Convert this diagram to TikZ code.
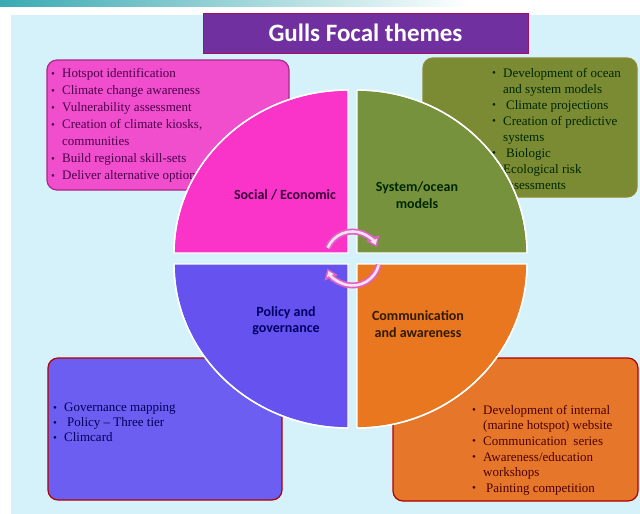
\documentclass[tikz,border=0pt]{standalone}
\usepackage{fontspec}
\setmainfont{Liberation Serif}
\newfontfamily\calibri{Carlito}
\usepackage{tikz}
\usetikzlibrary{
    arrows.meta,
    positioning
}

\definecolor{bgblue}{HTML}{D5F1FA}
\definecolor{bandteal}{HTML}{3AAAB2}
\definecolor{titlepurple}{HTML}{7030A0}
\definecolor{socialpink}{HTML}{FB34C9}
\definecolor{socialbox}{HTML}{F04ECD}
\definecolor{oceangreen}{HTML}{77923C}
\definecolor{oceanbox}{HTML}{7B8B33}
\definecolor{policyblue}{HTML}{6652EE}
\definecolor{policybox}{HTML}{6B5EF0}
\definecolor{commorange}{HTML}{E8771F}
\definecolor{commbox}{HTML}{E6772A}
\definecolor{ringpink}{HTML}{E062C4}
\definecolor{ringfill}{HTML}{F8E2F2}

\newcommand{\bul}{\makebox[11pt][l]{\raisebox{0.1ex}{\scalebox{0.85}{\textbullet}}}}
\newcommand{\gap}{\hspace*{11pt}}

\begin{document}
\begin{tikzpicture}[x=1pt, y=-1pt,
        listbox/.style={rounded corners=10pt, line width=1.2pt, inner sep=0pt},
        listtext/.style={anchor=north west, inner sep=0pt, align=left, font=\fontsize{13}{17}\selectfont},
        quadrant/.style={draw=white, line width=1.4pt},
        theme/.style={font=\calibri\bfseries\fontsize{14}{16.5}\selectfont, align=center},
        ringline/.style={draw=ringpink, line width=6pt, -{Triangle[length=10pt, width=14pt]}},
        ringinner/.style={draw=ringfill, line width=2.6pt, shorten >=2.6pt, -{Triangle[length=5pt, width=7pt]}}]
                                \useasboundingbox (0,0) rectangle (640,514);
                                \fill[white] (0,0) rectangle (640,514);
                                \fill[bgblue] (11,15) rectangle (640,514);
                                \shade[left color=bandteal, right color=white] (0,0) rectangle (470,6);

                                \node[fill=titlepurple, draw=purple!70!titlepurple, line width=0.8pt, minimum width=325, minimum height=40,
                                    text=white, font=\calibri\bfseries\fontsize{25}{27}\selectfont] (title) at (365.5,33) {Gulls Focal themes};

                                \node[listbox, fill=socialbox, draw=socialpink!60!black!80!socialbox, minimum width=242, minimum height=130] (socialbox) at (168,125) {};
                                \node[listbox, fill=oceanbox, draw=oceanbox!70!brown, minimum width=214, minimum height=139] (oceanbox) at (530,127.5) {};
                                \node[listbox, fill=policybox, draw=red!70!black, minimum width=234, minimum height=142] (policybox) at (165,429) {};
                                \node[listbox, fill=commbox, draw=red!70!black, minimum width=245, minimum height=143] (commbox) at (515.5,429.5) {};

                                \node[listtext, text=violet!60!black] (sociallist) at (51,68.5) {%
                                    \bul Hotspot identification\\
                                    \bul Climate change awareness\\
                                    \bul Vulnerability assessment\\
                                    \bul Creation of climate kiosks,\\
                                    \gap communities\\
                                    \bul Build regional skill-sets\\
                                    \bul Deliver alternative options};
                                \node[listtext, text=black!85!green, font=\fontsize{13}{16}\selectfont] (oceanlist) at (492,68) {%
                                    \bul Development of ocean\\
                                    \gap and system models\\
                                    \bul\hspace{3pt}Climate projections\\
                                    \bul Creation of predictive\\
                                    \gap systems\\
                                    \bul\hspace{3pt}Biologic\\
                                    \bul Ecological risk\\
                                    \gap assessments};
                                \node[listtext, text=blue!35!black, font=\fontsize{13}{15}\selectfont] (policylist) at (53,403) {%
                                    \bul Governance mapping\\
                                    \bul\hspace{3pt}Policy -- Three tier\\
                                    \bul Climcard};
                                \node[listtext, text=red!30!black, font=\fontsize{13}{15.6}\selectfont] (commlist) at (472,405) {%
                                    \bul Development of internal\\
                                    \gap (marine hotspot) website\\
                                    \bul Communication\ \ series\\
                                    \bul Awareness/education\\
                                    \gap workshops\\
                                    \bul\hspace{3pt}Painting competition};

                                \fill[quadrant, fill=socialpink] (348,253) -- ++(-174,0) arc[start angle=180, end angle=270, x radius=174, y radius=163] -- cycle;
                                \fill[quadrant, fill=oceangreen] (357,253) -- ++(0,-163) arc[start angle=270, end angle=360, x radius=170, y radius=163] -- cycle;
                                \fill[quadrant, fill=commorange] (357,264) -- ++(170,0) arc[start angle=0, end angle=90, x radius=170, y radius=164] -- cycle;
                                \fill[quadrant, fill=policyblue] (348,264) -- ++(0,164) arc[start angle=90, end angle=180, x radius=174, y radius=164] -- cycle;
                                \draw[white, line width=1.4pt]
                                (174,253) arc[start angle=180, end angle=270, x radius=174, y radius=163]
                                (357,90) arc[start angle=270, end angle=360, x radius=170, y radius=163]
                                (527,264) arc[start angle=0, end angle=90, x radius=170, y radius=164]
                                (348,428) arc[start angle=90, end angle=180, x radius=174, y radius=164];

                                \node[theme, text=violet!45!black] (social) at (285,195) {Social / Economic};
                                \node[theme, text=black!85!green] (ocean) at (417,195) {System/ocean\\models};
                                \node[theme, text=blue!40!black] (policy) at (286,321) {Policy and\\governance};
                                \node[theme, text=black!80!orange] (comm) at (418,324) {Communication\\and awareness};

                                \coordinate (hub) at (352.5,258.5);
                                \draw[ringline] ([shift={(203:27)}]hub) arc[start angle=203, end angle=335, radius=27];
                                \draw[ringinner] ([shift={(203:27)}]hub) arc[start angle=203, end angle=335, radius=27];
                                \draw[ringline] ([shift={(14:27)}]hub) arc[start angle=14, end angle=158, radius=27];
                                \draw[ringinner] ([shift={(14:27)}]hub) arc[start angle=14, end angle=158, radius=27];
                            \end{tikzpicture}
\end{document}
